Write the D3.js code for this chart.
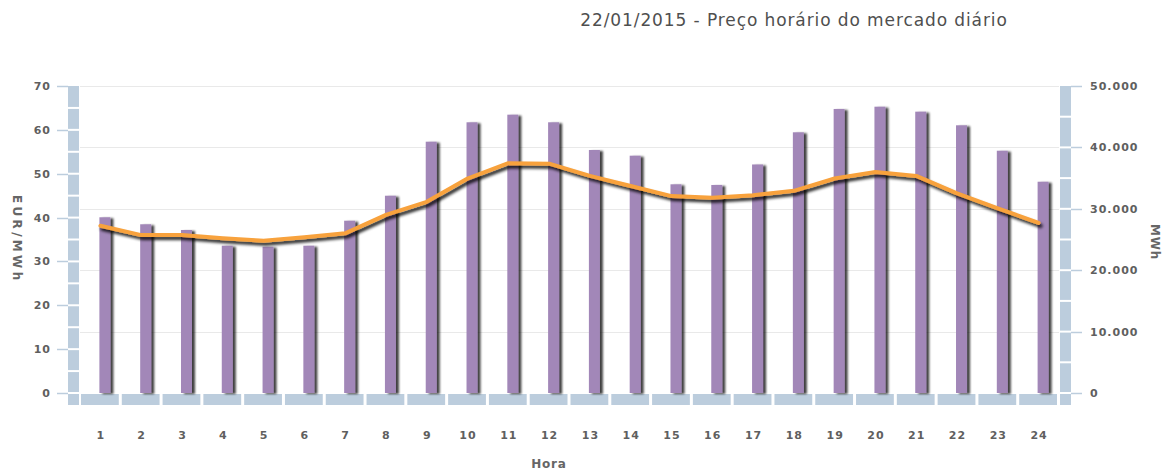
<!DOCTYPE html>
<html>
<head>
<meta charset="utf-8">
<script src="https://cdn.jsdelivr.net/npm/d3@7"></script>
<style>
  html, body { margin: 0; padding: 0; background: #fff; }
  svg { display: block; }
  .tick-label { font-family: "DejaVu Sans", Verdana, sans-serif; font-weight: bold; font-size: 11px; fill: #5f5f5f; letter-spacing: 1px; }
  .axis-title { font-family: "DejaVu Sans", Verdana, sans-serif; font-weight: bold; font-size: 12px; fill: #666; letter-spacing: 0.8px; }
  .title { font-family: "DejaVu Sans", Verdana, sans-serif; font-size: 17px; fill: #4f4f4f; letter-spacing: 0.9px; }
</style>
</head>
<body>
<svg id="chart" width="1167" height="470"></svg>
<script>
// Hourly day-ahead market, 22/01/2015
const hours = d3.range(1, 25);
const energyMWh = [28620, 27480, 26550, 23990, 23830, 23990, 28060, 32130, 40930, 44090, 45330, 44090,
                   39580, 38650, 33990, 33880, 37220, 42460, 46260, 46630, 45820, 43600, 39460, 34410];
const priceEUR = [38.15, 36.0, 36.0, 35.3, 34.7, 35.5, 36.4, 40.6, 43.6, 48.9, 52.4, 52.3,
                  49.5, 47.2, 44.9, 44.5, 45.1, 46.1, 48.9, 50.4, 49.5, 45.5, 42.1, 38.8];
const leftTicks = [0, 10, 20, 30, 40, 50, 60, 70];
const rightTicks = [0, 10000, 20000, 30000, 40000, 50000];
const titleText = "22/01/2015 - Preço horário do mercado diário";

const svg = d3.select("#chart");
const plot = { left: 80, right: 1059, top: 86, bottom: 393 };

const x = d3.scaleBand().domain(hours).range([plot.left, plot.right]).padding(0);
const yL = d3.scaleLinear().domain([0, 70]).range([plot.bottom, plot.top]);
const yR = d3.scaleLinear().domain([0, 50000]).range([plot.bottom, plot.top]);
const fmtR = v => d3.format(",")(v).replace(/,/g, ".");

// drop shadows for bars and line
const defs = svg.append("defs");
function shadow(id, dx, dy, sd, op) {
  const f = defs.append("filter").attr("id", id)
    .attr("x", "-20%").attr("y", "-20%").attr("width", "140%").attr("height", "140%");
  f.append("feGaussianBlur").attr("in", "SourceAlpha").attr("stdDeviation", sd).attr("result", "b");
  f.append("feOffset").attr("in", "b").attr("dx", dx).attr("dy", dy).attr("result", "o");
  f.append("feComponentTransfer").attr("in", "o").attr("result", "s")
    .append("feFuncA").attr("type", "linear").attr("slope", op);
  const m = f.append("feMerge");
  m.append("feMergeNode").attr("in", "s");
  m.append("feMergeNode").attr("in", "SourceGraphic");
}
shadow("barShadow", 2.5, 1, 1.3, 0.75);
shadow("lineShadow", 1.5, 3, 1.4, 0.85);

// title
svg.append("text").attr("class", "title")
  .attr("x", 794).attr("y", 26).attr("text-anchor", "middle").text(titleText);

// gridlines (right axis)
svg.append("g").selectAll("line").data(rightTicks.slice(1)).join("line")
  .attr("x1", plot.left).attr("x2", plot.right)
  .attr("y1", d => Math.round(yR(d)) + 0.5).attr("y2", d => Math.round(yR(d)) + 0.5)
  .attr("stroke", "#e9e9e9").attr("stroke-width", 1);

const bandColor = "#bccddd";

// left axis strip, segmented every 5 units
const leftSeg = d3.range(0, 70, 5);
svg.append("g").selectAll("rect").data(leftSeg).join("rect")
  .attr("x", 68).attr("width", 11)
  .attr("y", d => yL(d + 5) + (d + 5 === 70 ? 0 : 1))
  .attr("height", d => yL(d) - yL(d + 5) - (d + 5 === 70 ? 1 : 2))
  .attr("fill", bandColor);
svg.append("rect").attr("x", 68).attr("width", 11).attr("y", plot.bottom + 1).attr("height", 11).attr("fill", bandColor);

// right axis strip, segmented every 5000 MWh
const rightSeg = d3.range(0, 50000, 5000);
svg.append("g").selectAll("rect").data(rightSeg).join("rect")
  .attr("x", 1060).attr("width", 11)
  .attr("y", d => yR(d + 5000) + (d + 5000 === 50000 ? 0 : 1))
  .attr("height", d => yR(d) - yR(d + 5000) - (d + 5000 === 50000 ? 1 : 2))
  .attr("fill", bandColor);
svg.append("rect").attr("x", 1060).attr("width", 11).attr("y", plot.bottom + 1).attr("height", 11).attr("fill", bandColor);

// bottom category strip
svg.append("g").selectAll("rect").data(hours).join("rect")
  .attr("x", d => x(d) + 1).attr("width", x.bandwidth() - 3)
  .attr("y", plot.bottom + 1).attr("height", 11)
  .attr("fill", bandColor);

// left ticks and labels
const gl = svg.append("g");
gl.selectAll("line").data(leftTicks).join("line")
  .attr("x1", 57).attr("x2", 68)
  .attr("y1", d => Math.round(yL(d)) + 0.5).attr("y2", d => Math.round(yL(d)) + 0.5)
  .attr("stroke", bandColor).attr("stroke-width", 1.5);
gl.selectAll("text").data(leftTicks).join("text")
  .attr("class", "tick-label").attr("text-anchor", "end")
  .attr("x", 51).attr("y", d => yL(d) + 4).text(d => d);

// right ticks and labels
const gr = svg.append("g");
gr.selectAll("line").data(rightTicks).join("line")
  .attr("x1", 1071).attr("x2", 1082)
  .attr("y1", d => Math.round(yR(d)) + 0.5).attr("y2", d => Math.round(yR(d)) + 0.5)
  .attr("stroke", bandColor).attr("stroke-width", 1.5);
gr.selectAll("text").data(rightTicks).join("text")
  .attr("class", "tick-label").attr("text-anchor", "start")
  .attr("x", 1090).attr("y", d => yR(d) + 4).text(d => fmtR(d));

// x labels
svg.append("g").selectAll("text").data(hours).join("text")
  .attr("class", "tick-label").attr("text-anchor", "middle")
  .attr("x", d => x(d) + x.bandwidth() / 2 + 0.5).attr("y", 439).text(d => d);

// axis titles
svg.append("text").attr("class", "axis-title").attr("text-anchor", "middle")
  .attr("transform", "translate(13,238) rotate(90)")
  .attr("textLength", 86).attr("lengthAdjust", "spacing").text("EUR/MWh");
svg.append("text").attr("class", "axis-title").attr("text-anchor", "middle")
  .attr("transform", "translate(1151,242) rotate(90)").text("MWh");
svg.append("text").attr("class", "axis-title").attr("text-anchor", "middle")
  .attr("x", 549).attr("y", 468).text("Hora");

// energy bars
svg.append("g").attr("filter", "url(#barShadow)")
  .selectAll("rect").data(hours).join("rect")
  .attr("x", d => x(d) + x.bandwidth() / 2 - 1)
  .attr("width", 11)
  .attr("y", (d, i) => yR(energyMWh[i]))
  .attr("height", (d, i) => plot.bottom - yR(energyMWh[i]))
  .attr("fill", "#a287b8");

// price line
const line = d3.line()
  .x((d, i) => x(hours[i]) + x.bandwidth() / 2)
  .y(d => yL(d));
svg.append("path").datum(priceEUR)
  .attr("d", line)
  .attr("fill", "none")
  .attr("stroke", "#f8a23c")
  .attr("stroke-width", 4)
  .attr("stroke-linejoin", "round")
  .attr("stroke-linecap", "round")
  .attr("filter", "url(#lineShadow)");
</script>
</body>
</html>
